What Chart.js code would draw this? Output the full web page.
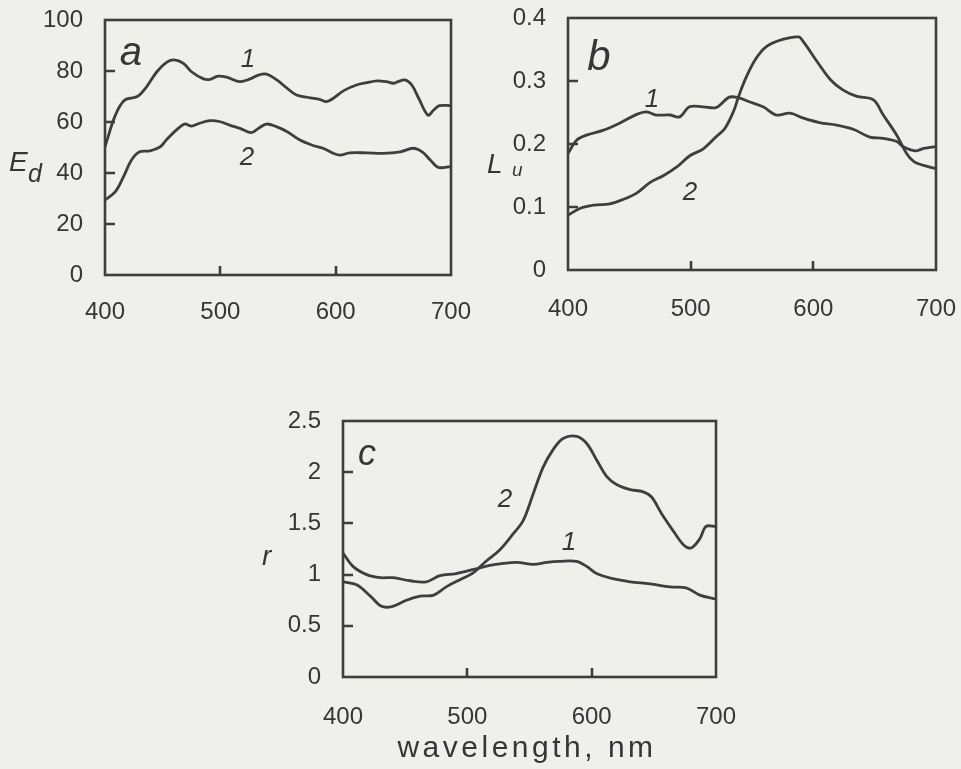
<!DOCTYPE html>
<html>
<head>
<meta charset="utf-8">
<script src="https://cdn.jsdelivr.net/npm/chart.js@4"></script>
<style>
  html, body { margin: 0; padding: 0; background: #efefec; }
  #page { position: relative; width: 961px; height: 769px; overflow: hidden; background: #efefec; }
  canvas { position: absolute; }
</style>
</head>
<body>
<div id="page">
  <canvas id="ca" width="480" height="330" style="left:0;top:0"></canvas>
  <canvas id="cb" width="481" height="330" style="left:480px;top:0"></canvas>
  <canvas id="cc" width="500" height="389" style="left:240px;top:380px"></canvas>
</div>
<script>
// ---------- data ----------
const xTicks = [400, 500, 600, 700];

// panel a : E_d
const aYTicks = [0, 20, 40, 60, 80, 100];
const aWave1 = [400,409,417,428,436,445,454,461,468,475,485,491,498,506,517,526,533,540,549,558,566,578,586,592,598,607,618,627,636,644,650,654,660,666,672,680,685,690,700];
const aEd1   = [50.3,62.7,68.6,70,73.8,79.7,83.6,84.3,83,79.7,77,76.7,78,77.5,75.8,76.9,78.4,78.8,76.5,73.2,70.6,69.5,68.9,68,69.3,72.3,74.5,75.4,76.1,75.8,75.2,75.8,76.5,74.5,69.3,62.7,64.7,66.4,66.4];
const aWave2 = [400,409,416,423,430,439,448,453,462,469,475,482,491,500,508,517,527,533,540,549,558,569,581,589,598,604,612,627,641,656,667,675,682,689,700];
const aEd2   = [29.4,32.7,38.5,45.1,48.3,48.7,50.3,52.9,56.9,59.2,58.4,59.5,60.5,60.1,58.8,57.5,55.8,57.5,59.2,58.1,56.2,52.9,50.7,49.7,47.7,47,47.9,47.9,47.7,48.3,49.7,48.3,45.1,42.2,42.5];

// panel b : L_u
const bYTicks = [0, 0.1, 0.2, 0.3, 0.4];
const bWave1 = [400,407,415,429,442,456,464,472,483,491,499,510,521,531,538,548,559,570,581,592,605,619,633,646,657,668,673,683,690,700];
const bLu1   = [0.185,0.206,0.214,0.222,0.233,0.247,0.251,0.246,0.246,0.243,0.259,0.259,0.258,0.274,0.274,0.267,0.259,0.246,0.249,0.241,0.234,0.230,0.223,0.211,0.209,0.204,0.196,0.189,0.193,0.196];
const bWave2 = [400,410,421,434,445,456,467,478,489,499,510,521,528,535,539,545,553,562,575,588,592,603,614,624,635,649,657,668,676,682,690,700];
const bLu2   = [0.087,0.098,0.103,0.105,0.112,0.122,0.139,0.150,0.164,0.181,0.192,0.212,0.225,0.252,0.275,0.305,0.335,0.355,0.366,0.370,0.362,0.331,0.302,0.286,0.276,0.270,0.246,0.214,0.185,0.172,0.166,0.161];

// panel c : r
const cYTicks = [0, 0.5, 1, 1.5, 2, 2.5];
const cWave1 = [400,408,419,430,440,454,467,478,491,505,518,529,540,553,564,574,588,596,604,617,631,647,663,676,687,700];
const cR1    = [1.21,1.08,1.00,0.97,0.97,0.94,0.93,0.99,1.01,1.05,1.09,1.11,1.12,1.10,1.12,1.13,1.13,1.08,1.01,0.96,0.93,0.91,0.88,0.87,0.80,0.76];
const cWave2 = [400,411,422,431,440,451,462,473,483,494,505,515,526,537,545,553,561,569,577,588,596,604,612,620,631,641,648,656,666,674,680,687,692,700];
const cR2    = [0.93,0.90,0.79,0.69,0.69,0.75,0.79,0.80,0.88,0.95,1.02,1.13,1.24,1.40,1.53,1.79,2.05,2.22,2.33,2.35,2.28,2.12,1.96,1.88,1.83,1.81,1.76,1.60,1.42,1.29,1.26,1.35,1.47,1.47];

// ---------- drawing ----------
const INK = '#3e3e3e';
const TXT = '#363636';
const FAM = '"Liberation Sans", Arial, Helvetica, sans-serif';

const framePlugin = {
  id: 'frame',
  afterDatasetsDraw(chart, args, o) {
    const { ctx, chartArea: ca, scales: { x, y } } = chart;
    ctx.save();
    ctx.strokeStyle = INK;
    ctx.lineWidth = 2.6;
    ctx.strokeRect(ca.left, ca.top, ca.right - ca.left, ca.bottom - ca.top);
    ctx.beginPath();
    o.yIn.forEach(v => { const p = Math.round(y.getPixelForValue(v)); ctx.moveTo(ca.left, p); ctx.lineTo(ca.left + 10, p); });
    o.xIn.forEach(v => { const p = Math.round(x.getPixelForValue(v)); ctx.moveTo(p, ca.bottom); ctx.lineTo(p, ca.bottom - 9); });
    ctx.stroke();
    ctx.fillStyle = TXT;
    ctx.textBaseline = 'alphabetic';
    (o.dtexts || []).forEach(t => {
      ctx.font = t.font; ctx.textAlign = 'center';
      ctx.fillText(t.s, x.getPixelForValue(t.x), y.getPixelForValue(t.y));
    });
    (o.ptexts || []).forEach(t => {
      ctx.font = t.font; ctx.textAlign = t.align || 'left';
      ctx.letterSpacing = t.ls || '0px';
      ctx.fillText(t.s, t.px, t.py);
      ctx.letterSpacing = '0px';
    });
    ctx.restore();
  }
};

function makePanel(id, p) {
  const tickFont = { family: FAM, size: 24 };
  return new Chart(document.getElementById(id), {
    type: 'line',
    data: {
      datasets: p.series.map(s => ({
        data: s.x.map((v, i) => ({ x: v, y: s.y[i] })),
        borderColor: INK, borderWidth: 2.8, pointRadius: 0,
        tension: 0.35, fill: false
      }))
    },
    options: {
      responsive: false, animation: false, events: [],
      layout: { padding: p.pad },
      plugins: { legend: { display: false }, tooltip: { enabled: false }, frame: p.frame },
      scales: {
        x: {
          type: 'linear', min: 400, max: 700,
          afterBuildTicks: s => { s.ticks = xTicks.map(v => ({ value: v })); },
          afterFit: s => { s.height = p.xh; s.paddingLeft = 0; s.paddingRight = 0; },
          grid: { display: false, drawTicks: false }, border: { display: false },
          ticks: { padding: p.xpad, font: tickFont, color: TXT, maxRotation: 0, autoSkip: false, callback: v => String(v) }
        },
        y: {
          type: 'linear', min: p.yTicks[0], max: p.yTicks[p.yTicks.length - 1],
          afterBuildTicks: s => { s.ticks = p.yTicks.map(v => ({ value: v })); },
          afterFit: s => { s.width = p.yw; s.paddingTop = 0; s.paddingBottom = 0; },
          grid: { display: false, drawTicks: false }, border: { display: false },
          ticks: { padding: 22, font: tickFont, color: TXT, autoSkip: false, callback: v => String(v) }
        }
      }
    },
    plugins: [framePlugin]
  });
}

const it = sz => 'italic ' + sz + 'px ' + FAM;

makePanel('ca', {
  series: [{ x: aWave1, y: aEd1 }, { x: aWave2, y: aEd2 }],
  yTicks: aYTicks, pad: { top: 20, right: 29, left: 0, bottom: 0 }, xh: 55, yw: 105, xpad: 23,
  frame: {
    yIn: [20, 40, 60, 80], xIn: [500, 600],
    dtexts: [
      { s: 'a', x: 422.5, y: 82.3, font: it(40) },
      { s: '1', x: 524, y: 81.5, font: it(26) },
      { s: '2', x: 523, y: 43.1, font: it(26) }
    ],
    ptexts: [
      { s: 'E', px: 9, py: 171, font: it(28) },
      { s: 'd', px: 28, py: 182, font: it(25) }
    ]
  }
});

makePanel('cb', {
  series: [{ x: bWave1, y: bLu1 }, { x: bWave2, y: bLu2 }],
  yTicks: bYTicks, pad: { top: 18, right: 25, left: 0, bottom: 0 }, xh: 60, yw: 88, xpad: 25,
  frame: {
    yIn: [0.1, 0.2, 0.3], xIn: [500, 600],
    dtexts: [
      { s: 'b', x: 425.3, y: 0.317, font: it(42) },
      { s: '1', x: 468.5, y: 0.259, font: it(26) },
      { s: '2', x: 499.4, y: 0.111, font: it(26) }
    ],
    ptexts: [
      { s: 'L', px: 7, py: 173, font: it(28) },
      { s: 'u', px: 32, py: 176, font: it(19) }
    ]
  }
});

makePanel('cc', {
  series: [{ x: cWave1, y: cR1 }, { x: cWave2, y: cR2 }],
  yTicks: cYTicks, pad: { top: 41, right: 24, left: 0, bottom: 0 }, xh: 92, yw: 103, xpad: 26,
  frame: {
    yIn: [0.5, 1, 1.5, 2], xIn: [500, 600],
    dtexts: [
      { s: 'c', x: 419.3, y: 2.07, font: it(36) },
      { s: '2', x: 530.2, y: 1.66, font: it(26) },
      { s: '1', x: 581.7, y: 1.24, font: it(26) }
    ],
    ptexts: [
      { s: 'r', px: 22, py: 185, font: it(28) },
      { s: 'wavelength, nm', px: 287, py: 377, font: '30px ' + FAM, align: 'center', ls: '3.5px' }
    ]
  }
});
</script>
</body>
</html>
